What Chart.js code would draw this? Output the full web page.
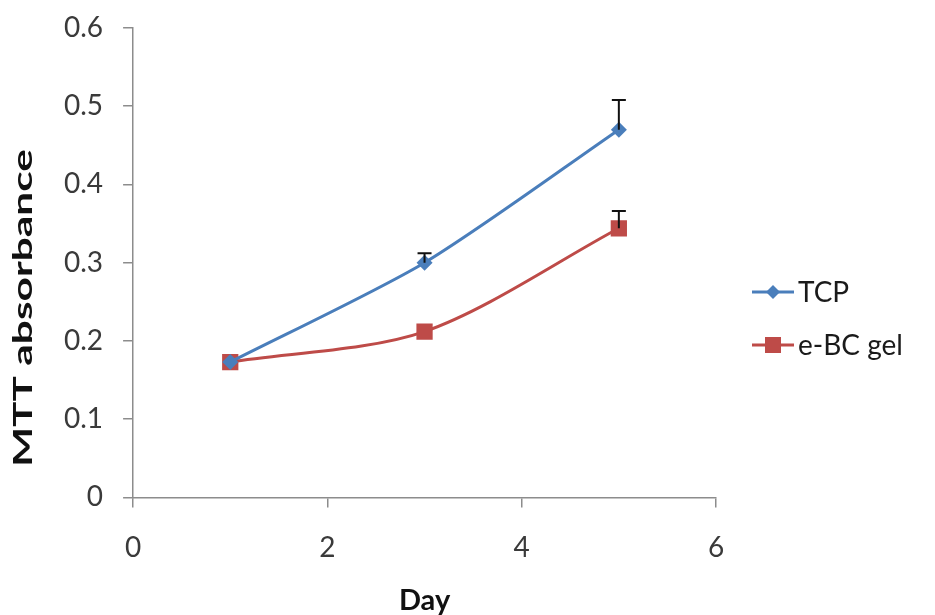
<!DOCTYPE html>
<html>
<head>
<meta charset="utf-8">
<script src="https://cdn.jsdelivr.net/npm/chart.js@4.4.0/dist/chart.umd.min.js"></script>
<style>
  html, body { margin: 0; padding: 0; background: #fff; }
  #wrap { width: 935px; height: 615px; }
</style>
</head>
<body>
<div id="wrap"><canvas id="chart" width="935" height="615"></canvas></div>
<script>
// values
var days = [1, 3, 5];
var tcp = [0.173, 0.300, 0.470];
var tcpErr = [0, 0.012, 0.038];
var gel = [0.173, 0.212, 0.344];
var gelErr = [0, 0, 0.022];
var seriesNames = ['TCP', 'e-BC gel'];
var xTicks = [0, 2, 4, 6];
var yTicks = [0, 0.1, 0.2, 0.3, 0.4, 0.5, 0.6];
var xTitle = 'Day';
var yTitle = 'MTT absorbance';

var blue = '#4a7ebb';
var red = '#be4b48';
var axisGrey = '#8c8c8c';
var font = "Lato, 'Open Sans', sans-serif";

function pts(xs, ys) {
    return xs.map(function(x, i) { return {x: x, y: ys[i]}; });
}

// upward-only error bars, like the excel original
var errorBars = {
    id: 'errorBars',
    afterDatasetsDraw: function(chart) {
        var ctx = chart.ctx;
        var xs = chart.scales.x, ys = chart.scales.y;
        var errs = [tcpErr, gelErr];
        ctx.save();
        ctx.strokeStyle = '#111';
        ctx.lineWidth = 2;
        chart.data.datasets.forEach(function(ds, d) {
            ds.data.forEach(function(p, i) {
                var e = errs[d][i];
                if (!e) return;
                var px = xs.getPixelForValue(p.x);
                var y0 = ys.getPixelForValue(p.y);
                var y1 = ys.getPixelForValue(p.y + e);
                ctx.beginPath();
                ctx.moveTo(px, y0);
                ctx.lineTo(px, y1);
                ctx.moveTo(px - 7, y1);
                ctx.lineTo(px + 7, y1);
                ctx.stroke();
            });
        });
        ctx.restore();
    }
};

// axis titles drawn by hand: the y one is stretched along its length like the original
var axisTitles = {
    id: 'axisTitles',
    afterDraw: function(chart) {
        var ctx = chart.ctx;
        var area = chart.chartArea;
        ctx.save();
        ctx.fillStyle = '#111';
        ctx.textAlign = 'center';
        ctx.textBaseline = 'middle';
        ctx.font = 'bold 29px ' + font;
        ctx.fillText(xTitle, (area.left + area.right) / 2, 601);
        ctx.font = 'bold 27px ' + font;
        var w = ctx.measureText(yTitle).width;
        ctx.translate(23, 308);
        ctx.rotate(-Math.PI / 2);
        ctx.scale(318 / w, 1);
        ctx.fillText(yTitle, 0, 0);
        ctx.restore();
    }
};

// legend on the right: line segment with marker, then name
var sideLegend = {
    id: 'sideLegend',
    afterDraw: function(chart) {
        var ctx = chart.ctx;
        var x0 = 752, rows = [292, 345];
        ctx.save();
        chart.data.datasets.forEach(function(ds, d) {
            var y = rows[d];
            ctx.strokeStyle = ds.borderColor;
            ctx.lineWidth = 3;
            ctx.beginPath();
            ctx.moveTo(x0, y);
            ctx.lineTo(x0 + 42, y);
            ctx.stroke();
            ctx.fillStyle = ds.backgroundColor;
            ctx.beginPath();
            if (ds.pointStyle === 'rectRot') {
                ctx.moveTo(x0 + 21, y - 7);
                ctx.lineTo(x0 + 28, y);
                ctx.lineTo(x0 + 21, y + 7);
                ctx.lineTo(x0 + 14, y);
                ctx.closePath();
            } else {
                ctx.rect(x0 + 13, y - 8, 16, 16);
            }
            ctx.fill();
            ctx.fillStyle = '#1a1a1a';
            ctx.font = '28px ' + font;
            ctx.textBaseline = 'middle';
            ctx.fillText(seriesNames[d], x0 + 46, y + 1);
        });
        ctx.restore();
    }
};

var ctx = document.getElementById('chart').getContext('2d');
var myChart = new Chart(ctx, {
    type: 'line',
    data: {
        datasets: [{
            label: seriesNames[0],
            data: pts(days, tcp),
            borderColor: blue,
            backgroundColor: blue,
            borderWidth: 3,
            pointStyle: 'rectRot',
            pointRadius: 8,
            pointBorderWidth: 0,
            tension: 0.25
        }, {
            label: seriesNames[1],
            data: pts(days, gel),
            borderColor: red,
            backgroundColor: red,
            borderWidth: 3,
            pointStyle: 'rect',
            pointRadius: 11.5,
            pointBorderWidth: 0,
            tension: 0.3
        }]
    },
    options: {
        responsive: false,
        animation: false,
        devicePixelRatio: 1,
        layout: { padding: { left: 44, right: 219, top: 28, bottom: 26 } },
        plugins: { legend: { display: false }, tooltip: { enabled: false } },
        scales: {
            x: {
                type: 'linear',
                min: 0, max: 6,
                afterBuildTicks: function(s) { s.ticks = xTicks.map(function(v) { return {value: v}; }); },
                border: { color: axisGrey, width: 1.5 },
                grid: { drawOnChartArea: false, color: axisGrey, tickLength: 10, lineWidth: 1.5 },
                ticks: { color: '#3a3a3a', padding: 24, font: { family: font, size: 28 } }
            },
            y: {
                min: 0, max: 0.6,
                afterBuildTicks: function(s) { s.ticks = yTicks.map(function(v) { return {value: v}; }); },
                afterFit: function(s) { s.paddingTop = 0; },
                border: { color: axisGrey, width: 1.5 },
                grid: { drawOnChartArea: false, color: axisGrey, tickLength: 10, lineWidth: 1.5 },
                ticks: {
                    color: '#3a3a3a', padding: 20, font: { family: font, size: 28 },
                    callback: function(v) { return String(Math.round(v * 10) / 10); }
                }
            }
        }
    },
    plugins: [errorBars, axisTitles, sideLegend]
});
</script>
</body>
</html>
